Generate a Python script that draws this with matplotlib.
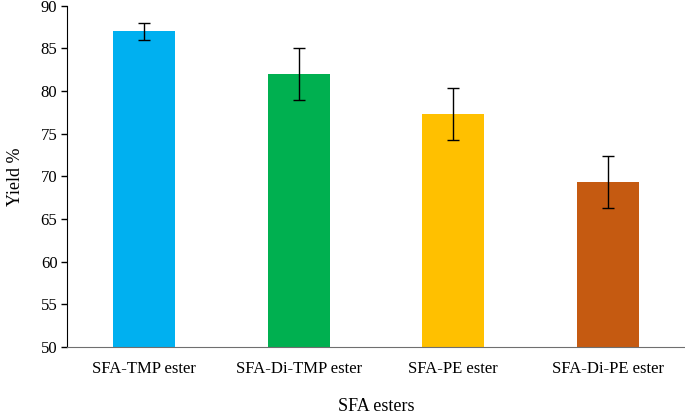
import matplotlib.pyplot as plt

# Data
categories = ["SFA-TMP ester", "SFA-Di-TMP ester", "SFA-PE ester", "SFA-Di-PE ester"]
yields = [87.0, 82.0, 77.3, 69.3]
errors = [1.0, 3.0, 3.05, 3.05]
colors = ["#00B0F0", "#00B050", "#FFC000", "#C55A11"]

plt.rcParams["font.family"] = ["Liberation Serif", "DejaVu Serif"]

fig = plt.figure(figsize=(6.85, 4.16), dpi=100)
ax = fig.add_axes([0.098, 0.166, 0.902, 0.82])

x = list(range(len(categories)))
ax.bar(x, yields, width=0.4, color=colors, zorder=2)
ax.errorbar(x, yields, yerr=errors, fmt="none", ecolor="black",
            elinewidth=1, capsize=4, capthick=1, zorder=3)

ax.set_xlim(-0.5, 3.5)
ax.set_ylim(50, 90)
ax.set_yticks(range(50, 91, 5))
ax.set_xticks(x)
ax.set_xticklabels(categories)

ax.spines["top"].set_visible(False)
ax.spines["right"].set_visible(False)
ax.spines["left"].set_color("black")
ax.spines["bottom"].set_color("#6f6f6f")
ax.tick_params(axis="y", direction="out", length=4, width=1, labelsize=12, pad=3)
ax.tick_params(axis="x", length=0, labelsize=12, pad=10)

ax.set_ylabel("Yield %", fontsize=13, labelpad=12)
ax.set_xlabel("SFA esters", fontsize=13, labelpad=15)

fig.savefig("out.png", dpi=100, facecolor="white")
